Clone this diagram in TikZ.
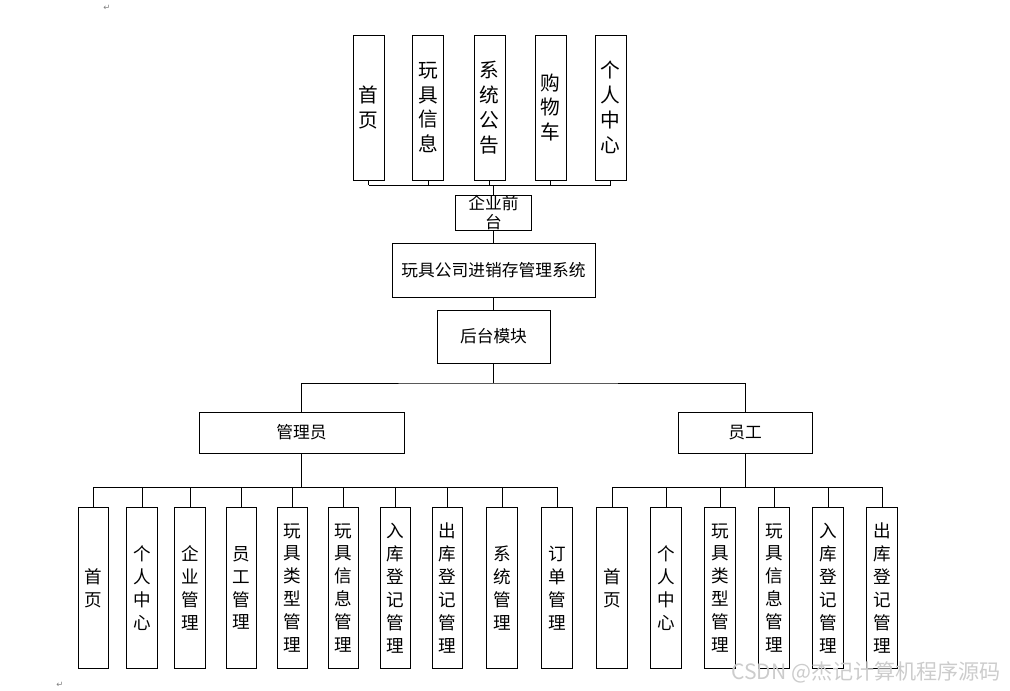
\documentclass[tikz,border=0pt]{standalone}
\usepackage{fontspec}
\setmainfont{Noto Sans CJK SC}
\newfontfamily\symfont{DejaVu Sans}

\begin{document}
\begin{tikzpicture}[x=0.025cm, y=-0.025cm,
    % box styles (sizes follow the page grid, 1 unit = 0.025cm)
    topitem/.style={draw, line width=0.6pt, minimum width=0.775cm, minimum height=3.625cm, inner sep=0pt, align=center, font=\fontsize{14}{17.7}\selectfont},
    leaf/.style={draw, line width=0.6pt, minimum width=0.76cm, minimum height=4.025cm, inner sep=0pt, align=center, font=\fontsize{12.5}{16.3}\selectfont},
    midbox/.style={draw, line width=0.6pt, inner sep=0pt, font=\fontsize{11.9}{13.5}\selectfont},
    link/.style={line width=0.6pt},
    pmark/.style={font=\symfont\fontsize{6}{6}\selectfont, text=gray}
]
\useasboundingbox (0,0) rectangle (1010,690);

% Front-end modules
\foreach \n/\x/\t in {f1/368.5/{首\\页}, f2/428/{玩\\具\\信\\息}, f3/489.5/{系\\统\\公\\告}, f4/550.5/{购\\物\\车}, f5/610.5/{个\\人\\中\\心}}
  \node[topitem] (\n) at (\x,107.5) {\t};

% Front desk
\node[midbox, minimum width=1.9cm, minimum height=0.85cm, align=center] (qt) at (493.5,213) {企业前\\台};
\coordinate (fbar) at (493.5,185);
\draw[link] (f1.south |- fbar) -- (f5.south |- fbar);
\foreach \n in {f1,f2,f3,f4,f5}
  \draw[link] (\n.south) -- (\n.south |- fbar);
\draw[link] (fbar) -- (qt.north);

% System and back end
\node[midbox, minimum width=5.075cm, minimum height=1.35cm] (sys) at (493.5,270) {玩具公司进销存管理系统};
\draw[link] (qt.south) -- (sys.north);
\node[midbox, minimum width=2.825cm, minimum height=1.325cm] (ht) at (493.5,336.5) {后台模块};
\draw[link] (sys.south) -- (ht.north);

% Roles
\node[midbox, minimum width=5.125cm, minimum height=1.025cm] (gly) at (301.5,432.5) {管理员};
\node[midbox, minimum width=3.35cm, minimum height=1.025cm] (yg) at (745,432.5) {员工};
\coordinate (rbar) at (493.5,383);
\draw[link] (ht.south) -- (rbar);
\draw[link] (gly.north) |- (rbar) -| (yg.north);

% Admin functions
\foreach \n/\x/\t in {a1/93.5/{首\\页}, a2/142/{个\\人\\中\\心}, a3/190/{企\\业\\管\\理}, a4/241.5/{员\\工\\管\\理}, a5/292.5/{玩\\具\\类\\型\\管\\理}, a6/343.5/{玩\\具\\信\\息\\管\\理}, a7/395.5/{入\\库\\登\\记\\管\\理}, a8/447.5/{出\\库\\登\\记\\管\\理}, a9/502/{系\\统\\管\\理}, a10/557/{订\\单\\管\\理}}
  \node[leaf] (\n) at (\x,588) {\t};
\coordinate (abar) at (301.5,487);
\draw[link] (gly.south) -- (abar);
\draw[link] (a1.north |- abar) -- (a10.north |- abar);
\foreach \n in {a1,a2,a3,a4,a5,a6,a7,a8,a9,a10}
  \draw[link] (\n.north) -- (\n.north |- abar);

% Staff functions
\foreach \n/\x/\t in {s1/612/{首\\页}, s2/666/{个\\人\\中\\心}, s3/720/{玩\\具\\类\\型\\管\\理}, s4/774/{玩\\具\\信\\息\\管\\理}, s5/828/{入\\库\\登\\记\\管\\理}, s6/882/{出\\库\\登\\记\\管\\理}}
  \node[leaf] (\n) at (\x,588) {\t};
\coordinate (sbar) at (745,487);
\draw[link] (yg.south) -- (sbar);
\draw[link] (s1.north |- sbar) -- (s6.north |- sbar);
\foreach \n in {s1,s2,s3,s4,s5,s6}
  \draw[link] (\n.north) -- (\n.north |- sbar);

% Page marks and watermark
\node[pmark] (pm1) at (107,8) {↵};
\node[pmark] (pm2) at (60,685) {↵};
\node[font=\fontsize{15}{15}\selectfont, text=gray!40, anchor=east] (wm) at (1006,672) {CSDN @杰记计算机程序源码};

\end{tikzpicture}
\end{document}
